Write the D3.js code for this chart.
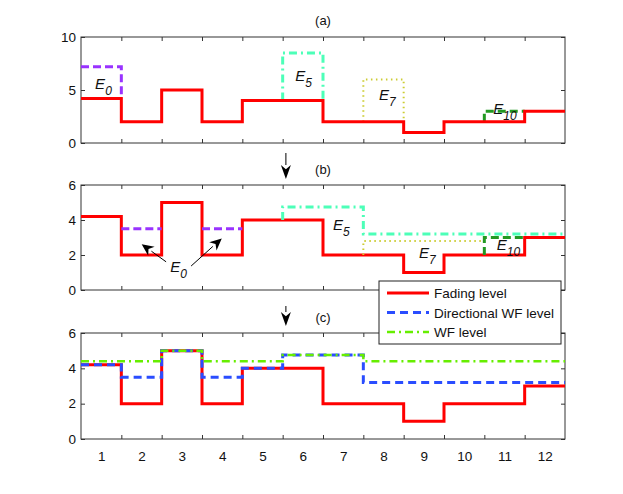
<!DOCTYPE html>
<html>
<head>
<meta charset="utf-8">
<script src="https://cdn.jsdelivr.net/npm/d3@7"></script>
<style>
  body { margin: 0; background: #fff; }
  text { font-family: "Liberation Sans", Arial, sans-serif; }
</style>
</head>
<body>
<div id="chart-area"></div>
<script>
// channel data
let channels = [1, 2, 3, 4, 5, 6, 7, 8, 9, 10, 11, 12];
let fading = [4.2, 2, 5, 2, 4, 4, 2, 2, 1, 2, 2, 3];
let dirWF = [4.2, 3.5, 5, 3.5, 4, 4.75, 4.75, 3.2, 3.2, 3.2, 3.2, 3.2];
let wfLevel = [4.4, 4.4, 5, 4.4, 4.4, 4.75, 4.75, 4.4, 4.4, 4.4, 4.4, 4.4];
let boundaries = [1.5, 2.5, 3.5, 4.5, 5.5, 6.5, 7.5, 8.5, 9.5, 10.5, 11.5];

// water filling outlines, [channel edge, level]
let e0a = [[0.5, 7.2], [1.5, 7.2], [1.5, 4.2]];
let e5a = [[5.5, 4], [5.5, 8.5], [6.5, 8.5], [6.5, 4]];
let e7a = [[7.5, 2], [7.5, 6], [8.5, 6], [8.5, 2]];
let e10a = [[10.5, 2], [10.5, 3], [11.5, 3]];

let e0b1 = [[1.5, 3.5], [2.5, 3.5]];
let e0b2 = [[3.5, 3.5], [4.5, 3.5]];
let e5b = [[5.5, 4], [5.5, 4.75], [7.5, 4.75], [7.5, 3.2], [12.5, 3.2]];
let e7b = [[7.5, 2], [7.5, 2.8], [10.5, 2.8]];
let e10b = [[10.5, 2], [10.5, 3], [11.5, 3]];

let yTicksA = [0, 5, 10];
let yTicksBC = [0, 2, 4, 6];

let svg = d3.select("#chart-area")
    .append("svg")
    .attr("width", 623)
    .attr("height", 494);

let x = d3.scaleLinear()
    .domain([0.5, 12.5])
    .range([81, 565]);

let panels = [
    {name: "(a)", top: 37, bottom: 143, max: 10, ticks: yTicksA, titleY: 25},
    {name: "(b)", top: 185, bottom: 290, max: 6, ticks: yTicksBC, titleY: 174},
    {name: "(c)", top: 333, bottom: 439, max: 6, ticks: yTicksBC, titleY: 322}
];

panels.forEach(function (p) {
    p.y = d3.scaleLinear().domain([0, p.max]).range([p.bottom, p.top]);
});

function stepPoints(values) {
    let pts = values.map(function (v, i) { return [channels[i] - 0.5, v]; });
    pts.push([channels[channels.length - 1] + 0.5, values[values.length - 1]]);
    return pts;
}

function drawPath(p, pts, color, width, dash, curve) {
    let line = d3.line()
        .x(d => x(d[0]))
        .y(d => p.y(d[1]))
        .curve(curve || d3.curveLinear);
    svg.append("path")
        .attr("d", line(pts))
        .attr("fill", "none")
        .attr("stroke", color)
        .attr("stroke-width", width)
        .attr("stroke-dasharray", dash || null);
}

function eLabel(p, dx, dy, sub) {
    let t = svg.append("text")
        .attr("x", x(dx))
        .attr("y", p.y(dy))
        .attr("font-size", 15)
        .attr("font-style", "italic")
        .attr("fill", "#111");
    t.append("tspan").text("E");
    t.append("tspan").attr("dy", 6).attr("font-size", 12).text(sub);
}

// axes and frames
panels.forEach(function (p) {
    let g = svg.append("g");

    g.append("g")
        .attr("transform", "translate(81,0)")
        .call(d3.axisLeft(p.y).tickValues(p.ticks).tickSize(-4).tickPadding(5).tickFormat(d3.format("d")))
        .call(a => a.select(".domain").remove())
        .call(a => a.selectAll("text").attr("font-size", 13.5).attr("fill", "#111")
            .style("font-family", "'Liberation Sans', Arial, sans-serif"));

    g.append("g")
        .attr("transform", "translate(565,0)")
        .call(d3.axisRight(p.y).tickValues(p.ticks).tickSize(-4).tickFormat(""))
        .call(a => a.select(".domain").remove());

    g.append("g")
        .attr("transform", "translate(0," + p.bottom + ")")
        .call(d3.axisBottom(x).tickValues(boundaries).tickSize(-4).tickFormat(""))
        .call(a => a.select(".domain").remove());

    g.append("g")
        .attr("transform", "translate(0," + p.top + ")")
        .call(d3.axisTop(x).tickValues(boundaries).tickSize(-4).tickFormat(""))
        .call(a => a.select(".domain").remove());

    g.selectAll(".tick line").attr("stroke", "#333");

    g.append("rect")
        .attr("x", 81)
        .attr("y", p.top)
        .attr("width", 565 - 81)
        .attr("height", p.bottom - p.top)
        .attr("fill", "none")
        .attr("stroke", "#333")
        .attr("stroke-width", 1);

    svg.append("text")
        .attr("x", x(6.5))
        .attr("y", p.titleY)
        .attr("text-anchor", "middle")
        .attr("font-size", 13)
        .attr("fill", "#111")
        .text(p.name);
});

// channel labels under (c)
svg.append("g")
    .attr("transform", "translate(0,439)")
    .call(d3.axisBottom(x).tickValues(channels).tickSize(0).tickPadding(12))
    .call(a => a.select(".domain").remove())
    .call(a => a.selectAll("text").attr("font-size", 13.5).attr("fill", "#111")
        .style("font-family", "'Liberation Sans', Arial, sans-serif"));

let pa = panels[0], pb = panels[1], pc = panels[2];

// (a)
drawPath(pa, e0a, "#9933ff", 3, "8,4");
drawPath(pa, e5a, "#4dffb8", 3, "8,4,2,4");
drawPath(pa, e7a, "#cccc33", 2, "1.5,3.5");
drawPath(pa, e10a, "#229922", 3, "8,4");
drawPath(pa, stepPoints(fading), "#ff0000", 3, null, d3.curveStepAfter);
eLabel(pa, 0.85, 5.1, "0");
eLabel(pa, 5.81, 5.85, "5");
eLabel(pa, 7.89, 4.06, "7");
eLabel(pa, 10.72, 2.74, "10");

// (b)
drawPath(pb, stepPoints(fading), "#ff0000", 3, null, d3.curveStepAfter);
drawPath(pb, e0b1, "#9933ff", 3, "8,4");
drawPath(pb, e0b2, "#9933ff", 3, "8,4");
drawPath(pb, e5b, "#4dffb8", 3, "8,4,2,4");
drawPath(pb, e7b, "#cccc33", 2, "1.5,3.5");
drawPath(pb, e10b, "#229922", 3, "8,4");
eLabel(pb, 6.75, 3.42, "5");
eLabel(pb, 8.88, 1.82, "7");
eLabel(pb, 10.81, 2.28, "10");
eLabel(pb, 2.71, 1.04, "0");

function arrow(x1, y1, x2, y2, len, half) {
    let ang = Math.atan2(y2 - y1, x2 - x1);
    let bx = x2 - len * Math.cos(ang), by = y2 - len * Math.sin(ang);
    svg.append("line")
        .attr("x1", x1).attr("y1", y1)
        .attr("x2", bx).attr("y2", by)
        .attr("stroke", "#000").attr("stroke-width", 1);
    let nx = -Math.sin(ang) * half, ny = Math.cos(ang) * half;
    let back = len * 0.7;
    let cx = x2 - back * Math.cos(ang), cy = y2 - back * Math.sin(ang);
    svg.append("path")
        .attr("d", "M" + x2 + "," + y2 +
            "L" + (bx + nx) + "," + (by + ny) +
            "L" + cx + "," + cy +
            "L" + (bx - nx) + "," + (by - ny) + "Z")
        .attr("fill", "#000");
}

arrow(x(2.61), pb.y(1.61), x(2.005), pb.y(2.62), 12, 5.5);
arrow(x(3.23), pb.y(1.37), x(3.99), pb.y(2.95), 12, 5.5);

// down arrows between panels
arrow(x(5.58), 153, x(5.58), 179, 14, 5);
arrow(x(5.58), 306, x(5.58), 326, 14, 5);

// (c)
drawPath(pc, stepPoints(fading), "#ff0000", 3, null, d3.curveStepAfter);
drawPath(pc, stepPoints(dirWF), "#2a4dff", 3, "8,5", d3.curveStepAfter);
drawPath(pc, stepPoints(wfLevel), "#66ee00", 2.5, "8,4,2,4", d3.curveStepAfter);

// legend
let legendNames = ["Fading level", "Directional WF level", "WF level"];
let legendColors = ["#ff0000", "#2a4dff", "#66ee00"];
let legendDash = [null, "8,5", "8,4,2,4"];

let lg = svg.append("g");
lg.append("rect")
    .attr("x", 379).attr("y", 281)
    .attr("width", 182).attr("height", 63)
    .attr("fill", "#fff")
    .attr("stroke", "#222")
    .attr("stroke-width", 1);

legendNames.forEach(function (name, i) {
    let ly = 293 + i * 19.5;
    lg.append("line")
        .attr("x1", 387).attr("x2", 429)
        .attr("y1", ly).attr("y2", ly)
        .attr("stroke", legendColors[i])
        .attr("stroke-width", i === 2 ? 2.5 : 3)
        .attr("stroke-dasharray", legendDash[i]);
    lg.append("text")
        .attr("x", 434)
        .attr("y", ly + 5)
        .attr("font-size", 13.5)
        .attr("fill", "#111")
        .text(name);
});
</script>
</body>
</html>
